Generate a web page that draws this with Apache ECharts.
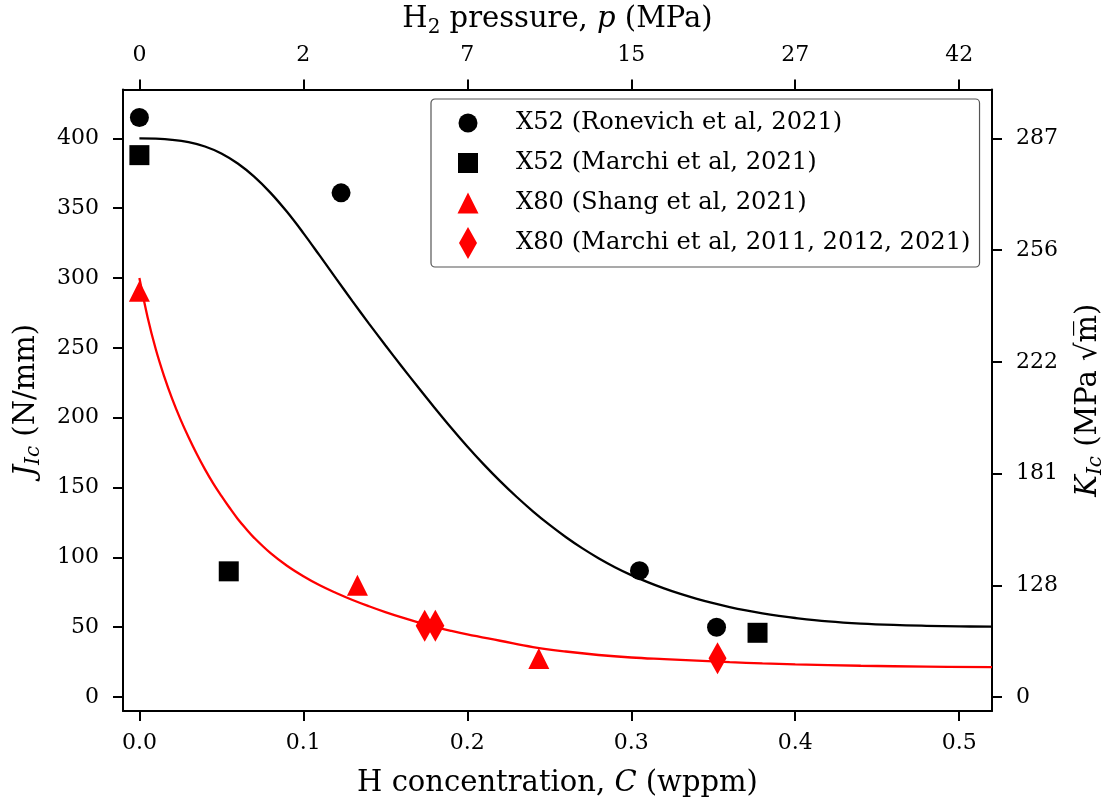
<!DOCTYPE html>
<html>
<head>
<meta charset="utf-8">
<script src="https://cdn.jsdelivr.net/npm/echarts@6/dist/echarts.min.js"></script>
<style>
  html, body { margin: 0; padding: 0; background: #fff; }
  #chart { width: 1114px; height: 812px; }
</style>
</head>
<body>
<div id="chart"></div>
<script>
// fitted curves
var fitBlackC = [0, 0.01, 0.02, 0.03, 0.04, 0.05, 0.06, 0.07, 0.08, 0.09, 0.10, 0.11, 0.12, 0.13, 0.14, 0.15,
  0.16, 0.17, 0.18, 0.19, 0.20, 0.21, 0.22, 0.23, 0.24, 0.25, 0.26, 0.27, 0.28, 0.29, 0.30, 0.31, 0.32,
  0.33, 0.34, 0.35, 0.36, 0.37, 0.38, 0.39, 0.40, 0.42, 0.44, 0.46, 0.48, 0.50, 0.52];
var fitBlackJ = [400, 399.8, 399.0, 397.3, 394.2, 389.2, 382.0, 372.6, 361.0, 347.4, 332.2, 316.0, 299.6, 283.3, 267.4, 251.9,
  236.7, 221.8, 207.2, 193.0, 179.4, 166.6, 154.6, 143.4, 133.0, 123.4, 114.6, 106.6, 99.4, 93.0, 87.3, 82.3, 77.8,
  73.8, 70.3, 67.2, 64.45, 62.05, 59.95, 58.15, 56.6, 54.2, 52.6, 51.6, 51.0, 50.6, 50.4];

var fitRedC = [0, 0.005, 0.01, 0.015, 0.02, 0.025, 0.03, 0.035, 0.04, 0.045, 0.05, 0.055, 0.06, 0.065,
  0.07, 0.08, 0.09, 0.10, 0.11, 0.12, 0.13, 0.14, 0.15, 0.16, 0.17, 0.18, 0.19, 0.20, 0.22, 0.24,
  0.26, 0.28, 0.30, 0.32, 0.34, 0.36, 0.38, 0.40, 0.44, 0.48, 0.52];
var fitRedJ = [300, 272, 249, 230, 213.5, 199, 186, 174, 163, 153, 144, 135.5, 127.5, 120.5,
  114, 103, 94, 86.5, 80, 74.5, 69.5, 65, 60.8, 57, 53.5, 50.3, 47.4, 44.8, 40.3, 35.8,
  32.6, 30.1, 28.3, 27.1, 26.0, 25.0, 24.1, 23.4, 22.4, 21.8, 21.4];

// measured points
var ronevichC = [0, 0.123, 0.305, 0.352];
var ronevichJ = [415, 361, 90.5, 50];
var marchiX52C = [0, 0.0545, 0.377];
var marchiX52J = [388, 90, 46];
var shangC = [0, 0.133, 0.2436];
var shangJ = [290.5, 80, 27.6];
var marchiX80C = [0.174, 0.1805, 0.3526];
var marchiX80J = [51, 51, 27.8];

var seriesNames = [
  'X52 (Ronevich et al, 2021)',
  'X52 (Marchi et al, 2021)',
  'X80 (Shang et al, 2021)',
  'X80 (Marchi et al, 2011, 2012, 2021)'
];

// ticks
var cTicks = [0, 0.1, 0.2, 0.3, 0.4, 0.5];
var pressureLabels = ['0', '2', '7', '15', '27', '42'];
var jTicks = [0, 50, 100, 150, 200, 250, 300, 350, 400];
var kTickPos = [0, 80, 160, 240, 320, 400];
var kTickLabels = ['0', '128', '181', '222', '256', '287'];

var FONT = 'DejaVu Serif';

function pairs(xs, ys) {
  return xs.map(function(x, i) { return [x, ys[i]]; });
}

// legend icons (invisible corners keep a 32x32 box)
var iconCircle = 'path://M0,0M32,32M25.5,16A9.5,9.5,0,1,1,6.5,16A9.5,9.5,0,1,1,25.5,16Z';
var iconSquare = 'path://M0,0M32,32M6,6L26,6L26,26L6,26Z';
var iconTriangle = 'path://M0,0M32,32M16,5.5L26.5,26.5L5.5,26.5Z';
var iconDiamond = 'path://M0,0M32,32M16,0L25,16L16,32L7,16Z';

var axisLine = { onZero: false, lineStyle: { color: '#000', width: 2 } };
var tickStyle = { color: '#000', width: 2 };
var labelStyle = { fontFamily: FONT, fontSize: 22, color: '#000' };
var nameRich = {
  it: { fontStyle: 'italic' },
  sub: { fontStyle: 'italic', fontSize: 20, padding: [16, 0, 0, 0] },
  sub2: { fontSize: 20, padding: [16, 0, 0, 0] }
};
var nameStyle = { fontFamily: FONT, fontSize: 29, color: '#000', rich: nameRich };

var myChart = echarts.init(document.getElementById('chart'));

var option = {
  animation: false,
  backgroundColor: '#fff',
  grid: { left: 123, right: 119, top: 86, bottom: 101 },
  legend: {
    orient: 'vertical',
    left: 431,
    top: 99,
    itemWidth: 32,
    itemHeight: 32,
    itemGap: 8,
    padding: [8, 9, 8, 21],
    borderColor: '#555',
    borderWidth: 1.2,
    borderRadius: 4,
    backgroundColor: '#fff',
    selectedMode: false,
    textStyle: { fontFamily: FONT, fontSize: 24.2, color: '#000', padding: [0, 0, 0, 27] },
    data: [
      { name: seriesNames[0], icon: iconCircle },
      { name: seriesNames[1], icon: iconSquare },
      { name: seriesNames[2], icon: iconTriangle },
      { name: seriesNames[3], icon: iconDiamond }
    ]
  },
  xAxis: [{
    type: 'value',
    position: 'bottom',
    min: -0.01,
    max: 0.52,
    axisLine: axisLine,
    axisTick: { customValues: cTicks, length: 10, lineStyle: tickStyle },
    axisLabel: Object.assign({ customValues: cTicks, margin: 21,
      formatter: function(v) { return v.toFixed(1); } }, labelStyle),
    splitLine: { show: false },
    name: 'H concentration, {it|C} (wppm)',
    nameLocation: 'middle',
    nameGap: 58,
    nameTextStyle: nameStyle
  }, {
    type: 'value',
    position: 'top',
    min: -0.01,
    max: 0.52,
    axisLine: axisLine,
    axisTick: { customValues: cTicks, length: 10, lineStyle: tickStyle },
    axisLabel: Object.assign({ customValues: cTicks, margin: 23,
      formatter: function(v) { return pressureLabels[Math.round(v * 10)]; } }, labelStyle),
    splitLine: { show: false },
    name: 'H{sub2|2} pressure, {it|p} (MPa)',
    nameLocation: 'middle',
    nameGap: 52,
    nameTextStyle: nameStyle
  }],
  yAxis: [{
    type: 'value',
    position: 'left',
    min: -10,
    max: 435,
    axisLine: axisLine,
    axisTick: { customValues: jTicks, length: 10, lineStyle: tickStyle },
    axisLabel: Object.assign({ customValues: jTicks, margin: 24 }, labelStyle),
    splitLine: { show: false },
    name: '{it|J}{sub|Ic} (N/mm)',
    nameLocation: 'middle',
    nameGap: 79,
    nameTextStyle: nameStyle
  }, {
    type: 'value',
    position: 'right',
    min: -10,
    max: 435,
    axisLine: axisLine,
    axisTick: { customValues: kTickPos, length: 10, lineStyle: tickStyle },
    axisLabel: Object.assign({ customValues: kTickPos, margin: 24,
      formatter: function(v) { return kTickLabels[kTickPos.indexOf(v)]; } }, labelStyle),
    splitLine: { show: false },
    name: '{it|K}{sub|Ic} (MPa \u221Am\u0305)',
    nameLocation: 'middle',
    nameGap: 78,
    nameTextStyle: nameStyle
  }],
  series: [{
    name: 'fitX52',
    type: 'line',
    data: pairs(fitBlackC, fitBlackJ),
    showSymbol: false,
    symbol: 'none',
    smooth: 0.4,
    lineStyle: { color: '#000', width: 2.3 },
    itemStyle: { color: '#000' },
    z: 2
  }, {
    name: 'fitX80',
    type: 'line',
    data: pairs(fitRedC, fitRedJ),
    showSymbol: false,
    symbol: 'none',
    smooth: 0.4,
    lineStyle: { color: '#ff0000', width: 2.3 },
    itemStyle: { color: '#ff0000' },
    z: 2
  }, {
    name: seriesNames[0],
    type: 'scatter',
    data: pairs(ronevichC, ronevichJ),
    symbol: 'circle',
    symbolSize: 19,
    itemStyle: { color: '#000', opacity: 1 },
    z: 3
  }, {
    name: seriesNames[1],
    type: 'scatter',
    data: pairs(marchiX52C, marchiX52J),
    symbol: 'rect',
    symbolSize: 20,
    itemStyle: { color: '#000', opacity: 1 },
    z: 3
  }, {
    name: seriesNames[2],
    type: 'scatter',
    data: pairs(shangC, shangJ),
    symbol: 'triangle',
    symbolSize: 21,
    itemStyle: { color: '#ff0000', opacity: 1 },
    z: 3
  }, {
    name: seriesNames[3],
    type: 'scatter',
    data: pairs(marchiX80C, marchiX80J),
    symbol: 'diamond',
    symbolSize: [18, 32],
    itemStyle: { color: '#ff0000', opacity: 1 },
    z: 3
  }]
};

myChart.setOption(option);
</script>
</body>
</html>
